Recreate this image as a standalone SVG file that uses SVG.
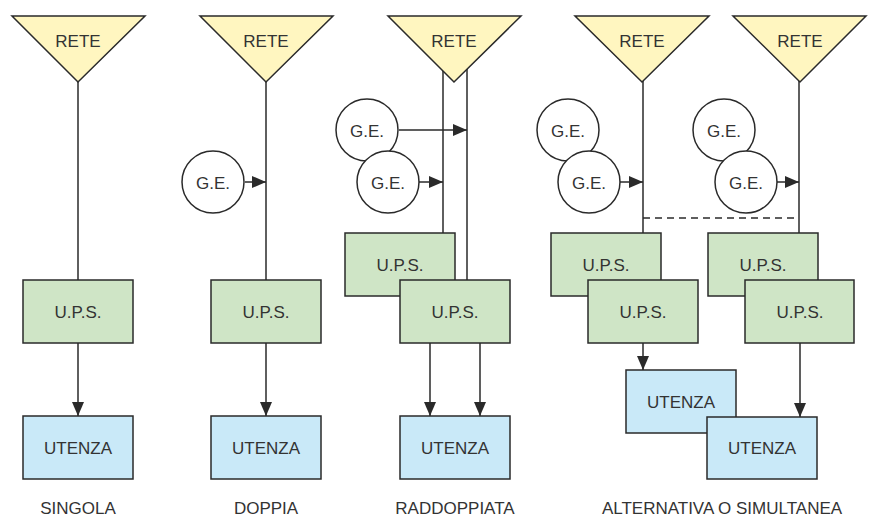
<svg xmlns="http://www.w3.org/2000/svg" width="873" height="517" viewBox="0 0 873 517">
<style>
.tri{fill:#FFF6C0;stroke:#2a2a2a;stroke-width:1.5;stroke-linejoin:miter}
.ups{fill:#CFE5C6;stroke:#2a2a2a;stroke-width:1.5}
.ut{fill:#C9E9F8;stroke:#2a2a2a;stroke-width:1.5}
.ge{fill:#fff;stroke:#2a2a2a;stroke-width:1.5}
.ln{fill:none;stroke:#2a2a2a;stroke-width:1.5}
.ar{fill:none;stroke:#2a2a2a;stroke-width:1.5;marker-end:url(#ah)}
.dash{fill:none;stroke:#2a2a2a;stroke-width:1.5;stroke-dasharray:7,5}
text{font-family:"Liberation Sans",Arial,sans-serif;font-size:17px;fill:#333;text-anchor:middle;dominant-baseline:central}
</style>
<defs>
<marker id="ah" markerUnits="userSpaceOnUse" markerWidth="14" markerHeight="12" refX="14" refY="6" orient="auto">
<path d="M0,0 L14,6 L0,12 Z" fill="#2a2a2a"/>
</marker>
</defs>
<g id="connectors">
<line class="ln" x1="78" y1="60" x2="78" y2="280"/>
<line class="ar" x1="78" y1="343" x2="78" y2="416"/>
<line class="ln" x1="266" y1="60" x2="266" y2="280"/>
<line class="ar" x1="245" y1="182" x2="266" y2="182"/>
<line class="ar" x1="266" y1="343" x2="266" y2="416"/>
<line class="ln" x1="443" y1="60" x2="443" y2="233"/>
<line class="ln" x1="467" y1="60" x2="467" y2="280"/>
<line class="ar" x1="399" y1="130" x2="467" y2="130"/>
<line class="ar" x1="419" y1="182" x2="443" y2="182"/>
<line class="ar" x1="430" y1="343" x2="430" y2="416"/>
<line class="ar" x1="480" y1="343" x2="480" y2="416"/>
<line class="ln" x1="643" y1="60" x2="643" y2="233"/>
<line class="ln" x1="799" y1="60" x2="799" y2="233"/>
<line class="ar" x1="620" y1="182" x2="643" y2="182"/>
<line class="ar" x1="777" y1="182" x2="799" y2="182"/>
<line class="dash" x1="643" y1="218" x2="799" y2="218"/>
<line class="ar" x1="643" y1="343" x2="643" y2="370"/>
<line class="ar" x1="800" y1="343" x2="800" y2="417"/>
</g>
<g id="rete1"><path class="tri" d="M12,16 L145,16 L78,82 Z"/><text x="78" y="41">RETE</text></g>
<g id="rete2"><path class="tri" d="M200,16 L333,16 L266,82 Z"/><text x="266" y="41">RETE</text></g>
<g id="rete3"><path class="tri" d="M388,16 L521,16 L454,82 Z"/><text x="454" y="41">RETE</text></g>
<g id="rete4"><path class="tri" d="M575,16 L709,16 L642,82 Z"/><text x="642" y="41">RETE</text></g>
<g id="rete5"><path class="tri" d="M733,16 L866,16 L800,82 Z"/><text x="800" y="41">RETE</text></g>
<g id="ups1"><rect class="ups" x="23" y="280" width="110" height="63"/><text x="78" y="312">U.P.S.</text></g>
<g id="ut1"><rect class="ut" x="23" y="416" width="110" height="63"/><text x="78" y="448">UTENZA</text></g>
<g id="ge2"><circle class="ge" cx="213" cy="182" r="31"/><text x="213" y="183">G.E.</text></g>
<g id="ups2"><rect class="ups" x="211" y="280" width="110" height="63"/><text x="266" y="312">U.P.S.</text></g>
<g id="ut2"><rect class="ut" x="211" y="416" width="110" height="63"/><text x="266" y="448">UTENZA</text></g>
<g id="ge3a"><circle class="ge" cx="367" cy="130" r="31"/><text x="367" y="131">G.E.</text></g>
<g id="ge3b"><circle class="ge" cx="388" cy="182" r="31"/><text x="388" y="183">G.E.</text></g>
<g id="ups3a"><rect class="ups" x="345" y="233" width="110" height="63"/><text x="400" y="265">U.P.S.</text></g>
<g id="ups3b"><rect class="ups" x="400" y="280" width="110" height="63"/><text x="455" y="312">U.P.S.</text></g>
<g id="ut3"><rect class="ut" x="400" y="416" width="110" height="63"/><text x="455" y="448">UTENZA</text></g>
<g id="ge4a"><circle class="ge" cx="568" cy="130" r="31"/><text x="568" y="131">G.E.</text></g>
<g id="ge4b"><circle class="ge" cx="589" cy="182" r="31"/><text x="589" y="183">G.E.</text></g>
<g id="ge5a"><circle class="ge" cx="724" cy="130" r="31"/><text x="724" y="131">G.E.</text></g>
<g id="ge5b"><circle class="ge" cx="746" cy="182" r="31"/><text x="746" y="183">G.E.</text></g>
<g id="ups4a"><rect class="ups" x="551" y="233" width="110" height="63"/><text x="606" y="265">U.P.S.</text></g>
<g id="ups4b"><rect class="ups" x="588" y="280" width="110" height="63"/><text x="643" y="312">U.P.S.</text></g>
<g id="ups5a"><rect class="ups" x="708" y="233" width="110" height="63"/><text x="763" y="265">U.P.S.</text></g>
<g id="ups5b"><rect class="ups" x="745" y="280" width="109" height="63"/><text x="800" y="312">U.P.S.</text></g>
<g id="ut4"><rect class="ut" x="626" y="370" width="110" height="63"/><text x="681" y="402">UTENZA</text></g>
<g id="ut5"><rect class="ut" x="707" y="417" width="110" height="62"/><text x="762" y="448">UTENZA</text></g>
<g id="labels">
<text x="78" y="508">SINGOLA</text>
<text x="266" y="508">DOPPIA</text>
<text x="455" y="508">RADDOPPIATA</text>
<text x="722" y="508">ALTERNATIVA O SIMULTANEA</text>
</g>
</svg>
